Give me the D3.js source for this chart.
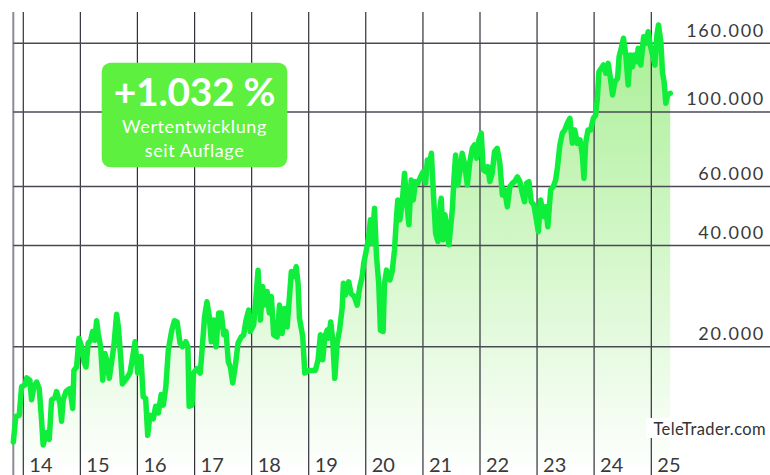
<!DOCTYPE html>
<html>
<head>
<meta charset="utf-8">
<script src="https://cdn.jsdelivr.net/npm/d3@7"></script>
<style>
  body { margin: 0; background: #fff; }
  svg { display: block; font-family: Lato, "Open Sans", sans-serif; }
</style>
</head>
<body>
<div id="container"></div>
<script>
/* CONSTANTS AND GLOBALS */
const width = 770, height = 475;

/* DATA */
const dates = [
  "2013-10-29","2013-11-14","2013-12-06","2013-12-21",
  "2014-01-12","2014-01-23","2014-02-12","2014-02-23","2014-03-10","2014-03-27","2014-04-13","2014-04-28",
  "2014-05-08","2014-05-30","2014-06-16","2014-07-01","2014-07-22","2014-08-02","2014-08-23","2014-09-03",
  "2014-09-13","2014-10-01","2014-10-15","2014-10-26","2014-11-13","2014-11-21","2014-12-08","2014-12-23",
  "2015-01-09","2015-01-24","2015-02-06","2015-02-20","2015-03-08","2015-03-20","2015-04-04","2015-04-15",
  "2015-04-25","2015-05-11","2015-05-24","2015-06-07","2015-06-22","2015-07-05","2015-07-20","2015-08-04",
  "2015-08-21","2015-09-01","2015-09-16","2015-09-27","2015-10-24","2015-11-14","2015-11-29","2015-12-17",
  "2016-01-03","2016-01-24","2016-02-07","2016-02-23","2016-03-07","2016-03-21","2016-04-12","2016-04-27",
  "2016-05-14","2016-06-01","2016-06-15","2016-07-01","2016-07-17","2016-08-08","2016-08-25","2016-09-11",
  "2016-09-30","2016-10-15","2016-11-06","2016-11-19","2016-11-27","2016-12-15","2016-12-25",
  "2017-01-16","2017-02-06","2017-02-21","2017-03-06","2017-03-21","2017-04-05","2017-04-18","2017-05-03",
  "2017-05-18","2017-06-04","2017-06-21","2017-07-06","2017-07-21","2017-08-05","2017-08-18","2017-09-02",
  "2017-09-19","2017-10-06","2017-10-27","2017-11-11","2017-11-26","2017-12-13","2017-12-23",
  "2018-01-14","2018-01-29","2018-02-11","2018-02-26","2018-03-12","2018-03-25","2018-04-10","2018-04-24",
  "2018-05-07","2018-05-22","2018-06-13","2018-06-28","2018-07-15","2018-07-31","2018-08-16","2018-08-31",
  "2018-09-12","2018-09-27","2018-10-13","2018-10-25","2018-11-03","2018-11-24","2018-12-07",
  "2019-01-01","2019-02-13","2019-03-02","2019-03-17","2019-04-01","2019-04-14","2019-04-29","2019-05-09",
  "2019-05-22","2019-06-04","2019-06-17","2019-07-02","2019-07-17","2019-08-03","2019-08-11","2019-08-24",
  "2019-09-14","2019-09-29","2019-10-20","2019-11-07","2019-11-24","2019-12-09","2019-12-19",
  "2020-01-05","2020-01-20","2020-01-31","2020-02-11","2020-02-26","2020-03-10","2020-03-24","2020-04-04",
  "2020-04-21","2020-04-30","2020-05-13","2020-06-03","2020-06-18","2020-07-03","2020-07-16","2020-07-24",
  "2020-08-06","2020-08-21","2020-09-05","2020-09-18","2020-10-03","2020-10-18","2020-10-31","2020-11-14",
  "2020-11-29","2020-12-17",
  "2021-01-03","2021-01-18","2021-01-29","2021-02-08","2021-02-24","2021-03-09","2021-03-23","2021-04-07",
  "2021-04-20","2021-04-28","2021-05-11","2021-05-22","2021-06-16","2021-07-08","2021-07-18","2021-07-29",
  "2021-08-12","2021-08-30","2021-09-09","2021-09-24","2021-10-12","2021-10-28","2021-11-13","2021-11-27",
  "2021-12-10","2021-12-25",
  "2022-01-09","2022-01-22","2022-02-06","2022-02-20","2022-03-05","2022-03-20","2022-04-04","2022-04-21",
  "2022-05-08","2022-05-24","2022-06-07","2022-06-25","2022-07-11","2022-07-27","2022-08-10","2022-08-28",
  "2022-09-13","2022-09-29","2022-10-13","2022-10-26","2022-11-10","2022-11-25","2022-12-12","2022-12-30",
  "2023-01-09","2023-01-24","2023-02-10","2023-02-25","2023-03-11","2023-03-29","2023-04-15","2023-04-30",
  "2023-05-11","2023-05-27","2023-06-12","2023-06-27","2023-07-14","2023-07-30","2023-08-15","2023-08-30",
  "2023-09-16","2023-10-03","2023-10-18","2023-10-28","2023-11-08","2023-11-23","2023-12-10","2023-12-27",
  "2024-01-11","2024-01-22","2024-02-01","2024-02-16","2024-03-01","2024-03-16","2024-03-31","2024-04-13",
  "2024-04-28","2024-05-13","2024-05-30","2024-06-09","2024-06-25","2024-07-07","2024-07-22","2024-08-06",
  "2024-08-19","2024-09-03","2024-09-13","2024-10-01","2024-10-09","2024-10-26","2024-11-13","2024-11-27",
  "2024-12-12","2024-12-25",
  "2025-01-09","2025-01-24","2025-02-06","2025-02-16","2025-03-03","2025-03-14","2025-03-24","2025-04-04",
  "2025-04-15","2025-05-02"
];
const values = [
  10400,12400,12500,15200,
  15400,16150,15900,13900,15200,15700,15000,12100,
  10200,11100,10600,13900,14100,14700,13600,12000,
  13900,14700,14900,15000,13100,17000,17400,21200,
  20000,18000,17400,20500,20900,22200,20900,23900,
  21900,20000,15900,19100,18000,16100,18000,20200,
  25000,22900,18700,15500,16100,16700,18300,20700,
  16700,18700,14200,14000,10900,12500,12200,13300,
  12700,14400,13400,15200,19600,22400,23900,23700,
  20500,20000,20700,20000,13300,13400,16700,
  17200,16700,20500,24600,27200,24600,20700,24000,
  20000,25200,25200,21700,22200,18000,17400,15600,
  17600,20500,21400,21700,24000,25700,22200,
  23200,28200,33800,24000,30200,26600,29200,25200,
  28200,21700,21400,26600,21900,26000,22900,28200,
  33500,32300,34600,30900,24300,21400,16700,
  17000,17000,18300,21700,18300,21400,22400,21200,
  23700,20900,16100,20500,22400,26000,30900,28500,
  31200,28800,28200,26600,30200,32300,35400,
  38800,42500,47700,40600,51700,37100,30900,22400,
  22200,30900,33800,31600,33500,38800,48800,54700,
  47700,53500,65700,54700,46100,62700,54700,62000,
  61300,64100,
  66400,61300,71900,68700,75300,57200,43500,41100,
  51700,55300,41600,49400,40200,51100,62700,74400,
  60600,68700,75300,70300,60600,71100,77900,79700,
  72800,82500,
  86400,67200,66400,68700,62000,65700,76100,77900,
  70300,56600,58600,52200,59900,61300,62000,64100,
  62000,57200,54000,61300,62000,54000,52800,47100,
  44000,54700,48800,52200,45500,58600,59900,62700,
  68000,79700,86400,88300,92500,95700,80600,88300,
  80600,82500,74400,63400,80600,88300,88300,95700,
  97900,109800,131700,134800,137900,130300,139500,127300,
  112300,123000,125900,146000,156300,165600,147700,120200,
  147700,136300,147700,141100,154700,137900,167400,160000,
  173200,158200,
  147700,137900,169300,181400,161800,130300,123000,106100,
  112300,113600
];
const yTicks = [20000, 40000, 60000, 100000, 160000];
const years = [2014, 2015, 2016, 2017, 2018, 2019, 2020, 2021, 2022, 2023, 2024, 2025];
const perfLabel = "+1.032 %";
const perfText = ["Wertentwicklung", "seit Auflage"];
const source = "TeleTrader.com";

const parse = d3.timeParse("%Y-%m-%d");
const data = dates.map((d, i) => ({ date: parse(d), value: values[i] }));

// SCALES
const x = d3.scaleTime()
  .domain([new Date(2014, 0, 1), new Date(2025, 0, 1)])
  .range([23.3, 651.3]);
const y = d3.scaleLog()
  .domain([20000, 160000])
  .range([346.7, 43.3]);

const de = d3.formatLocale({ decimal: ",", thousands: ".", grouping: [3], currency: ["", "€"] });
const fmt = de.format(",.0f");

const x0 = x(data[0].date);
const gridTop = 12;

// SVG
const svg = d3.select("#container")
  .append("svg")
  .attr("width", width)
  .attr("height", height);

const grad = svg.append("defs").append("linearGradient")
  .attr("id", "fillGrad")
  .attr("gradientUnits", "userSpaceOnUse")
  .attr("x1", 0).attr("x2", 0)
  .attr("y1", y(160000) - 15).attr("y2", height);
grad.append("stop").attr("offset", 0).attr("stop-color", "#a9ef95");
grad.append("stop").attr("offset", 1).attr("stop-color", "#ffffff");

// area
const area = d3.area()
  .x(d => x(d.date))
  .y0(height)
  .y1(d => y(d.value));
svg.append("path")
  .datum(data)
  .attr("d", area)
  .attr("fill", "url(#fillGrad)");

// vertical grid (year lines)
svg.append("g")
  .selectAll("line")
  .data(years)
  .join("line")
  .attr("x1", d => x(new Date(d, 0, 1)))
  .attr("x2", d => x(new Date(d, 0, 1)))
  .attr("y1", gridTop)
  .attr("y2", height)
  .attr("stroke", "#30303a")
  .attr("stroke-width", 1.2);

// left border
svg.append("line")
  .attr("x1", x0).attr("x2", x0)
  .attr("y1", gridTop).attr("y2", height)
  .attr("stroke", "#8c8c94")
  .attr("stroke-width", 2);

// horizontal grid
svg.append("g")
  .selectAll("line")
  .data(yTicks)
  .join("line")
  .attr("x1", x0)
  .attr("x2", width)
  .attr("y1", d => y(d))
  .attr("y2", d => y(d))
  .attr("stroke", "#4a4a54")
  .attr("stroke-width", 1.5);

// y labels
svg.append("g")
  .selectAll("text")
  .data(yTicks)
  .join("text")
  .attr("x", 765)
  .attr("y", d => y(d) - 6.5)
  .attr("text-anchor", "end")
  .attr("font-size", 18)
  .attr("letter-spacing", 1.7)
  .attr("fill", "#3a3a3a")
  .text(d => fmt(d));

// x labels
svg.append("g")
  .selectAll("text")
  .data(years)
  .join("text")
  .attr("x", d => x(new Date(d, 0, 1)) + 6)
  .attr("y", 472)
  .attr("font-size", 20)
  .attr("fill", "#3a3a3a")
  .text(d => String(d).slice(2));

// line
const line = d3.line()
  .x(d => x(d.date))
  .y(d => y(d.value));
svg.append("path")
  .datum(data)
  .attr("d", line)
  .attr("fill", "none")
  .attr("stroke", "#10ee3c")
  .attr("stroke-width", 5.5)
  .attr("stroke-linejoin", "round")
  .attr("stroke-linecap", "round");

// source label
const src = svg.append("g");
src.append("rect")
  .attr("x", 646).attr("y", 418)
  .attr("width", 124).attr("height", 20)
  .attr("fill", "#fff");
src.append("text")
  .attr("x", 766).attr("y", 435)
  .attr("text-anchor", "end")
  .attr("font-size", 16.5)
  .attr("letter-spacing", 0.4)
  .attr("fill", "#333")
  .text(source);

// performance badge
const badge = svg.append("g");
badge.append("rect")
  .attr("x", 101.7).attr("y", 62.7)
  .attr("width", 185.6).attr("height", 104.6)
  .attr("rx", 9)
  .attr("fill", "#5df03e");
badge.append("text")
  .attr("x", 194.5).attr("y", 105.5)
  .attr("text-anchor", "middle")
  .attr("font-size", 39)
  .attr("font-weight", 700)
  .attr("letter-spacing", -0.3)
  .attr("fill", "#fff")
  .text(perfLabel);
badge.selectAll("text.sub")
  .data(perfText)
  .join("text")
  .attr("class", "sub")
  .attr("x", 194.5)
  .attr("y", (d, i) => 132.5 + i * 24)
  .attr("text-anchor", "middle")
  .attr("font-size", 18)
  .attr("letter-spacing", 0.6)
  .attr("fill", "#fff")
  .text(d => d);
</script>
</body>
</html>
